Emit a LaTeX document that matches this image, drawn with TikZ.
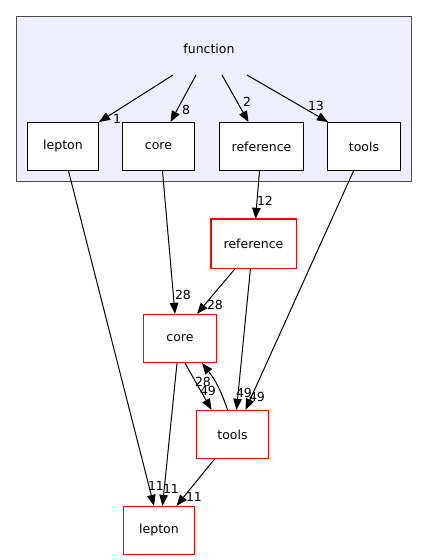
\documentclass[tikz,border=0pt]{standalone}
\usepackage{fontspec}
\setmainfont{DejaVu Sans}
\usetikzlibrary{arrows.meta}

\begin{document}
\begin{tikzpicture}[x=1pt,y=-1pt,line width=1pt,
		every node/.style={font=\fontsize{12.5}{14}\selectfont},
		inbox/.style={draw=black,fill=white,minimum height=48pt,inner sep=0pt},
		outbox/.style={draw=red,line width=1.3pt,fill=white,minimum height=48pt,inner sep=0pt},
		lbl/.style={inner sep=0pt},
		dep/.style={-{Triangle[length=11pt 0,width=8.5pt 0]},black}]
	\useasboundingbox (0,0) rectangle (427,560);
	\fill[white] (0,0) rectangle (427,560);
	% cluster: function
	\draw[black!70,fill={rgb,255:red,238;green,238;blue,255}] (16.5,16.5) rectangle (411.5,181.5);
	\node (function) at (209,49) {function};
	\coordinate (src) at (210,75);
	\node[inbox,minimum width=71pt] (flepton) at (63,146.5) {lepton};
	\node[inbox,minimum width=72pt] (fcore) at (158.5,146.5) {core};
	\node[inbox,minimum width=84pt] (freference) at (261.5,146.5) {reference};
	\node[inbox,minimum width=73pt] (ftools) at (364,146.5) {tools};
	% outside directories
	\node[outbox,draw=none,minimum width=84pt] (ref) at (253.5,243.5) {reference};
	\node[outbox,minimum width=73pt] (core) at (180,338.5) {core};
	\node[outbox,minimum width=72pt] (tools) at (232.5,434.5) {tools};
	\node[outbox,minimum width=71pt] (lepton) at (159,530.5) {lepton};
	\draw[red,line width=1.3pt] (ref.north west) rectangle (ref.south east);
	% edges inside the cluster
	\draw[dep] ([xshift=-37pt]src) -- (flepton.north east);
	\draw[dep] ([xshift=-14pt]src) -- ([xshift=12pt]fcore.north);
	\draw[dep] ([xshift=12pt]src) -- ([xshift=-13pt]freference.north);
	\draw[dep] ([xshift=37pt]src) -- ([xshift=1pt]ftools.north west);
	\node[lbl] (l1) at (117,119) {1};
	\node[lbl] (l8) at (186,110) {8};
	\node[lbl] (l2) at (247,102) {2};
	\node[lbl] (l13) at (316,106) {13};
	% edges between directories
	\draw[dep] ([xshift=5.5pt]flepton.south) -- ([xshift=-5pt]lepton.north);
	\draw[dep] ([xshift=4pt]fcore.south) -- ([xshift=-5pt]core.north);
	\draw[dep] ([xshift=-2pt]freference.south) -- ([xshift=2pt]ref.north);
	\draw[dep] ([xshift=-10.5pt]ftools.south) -- ([xshift=13pt]tools.north);
	\draw[dep] ([xshift=-18pt]ref.south) -- ([xshift=17pt]core.north);
	\draw[dep] ([xshift=-3pt]ref.south) -- ([xshift=4pt]tools.north);
	\draw[dep] ([xshift=5pt]core.south) -- ([xshift=-21pt]tools.north);
	\draw[dep] ([xshift=-5pt]tools.north) to[bend right=10] ([xshift=22pt]core.south);
	\draw[dep] ([xshift=-3pt]core.south) -- ([xshift=3.5pt]lepton.north);
	\draw[dep] ([xshift=-18pt]tools.south) -- ([xshift=17.5pt]lepton.north);
	\node[lbl] (l12) at (265,201) {12};
	\node[lbl] (l28a) at (183,295) {28};
	\node[lbl] (l28b) at (215,305) {28};
	\node[lbl] (l28c) at (203,382) {28};
	\node[lbl] (l49a) at (208,391) {49};
	\node[lbl] (l49b) at (244,393) {49};
	\node[lbl] (l49c) at (257,397) {49};
	\node[lbl] (l11a) at (156,486) {11};
	\node[lbl] (l11b) at (171,489) {11};
	\node[lbl] (l11c) at (194,497) {11};
\end{tikzpicture}
\end{document}
